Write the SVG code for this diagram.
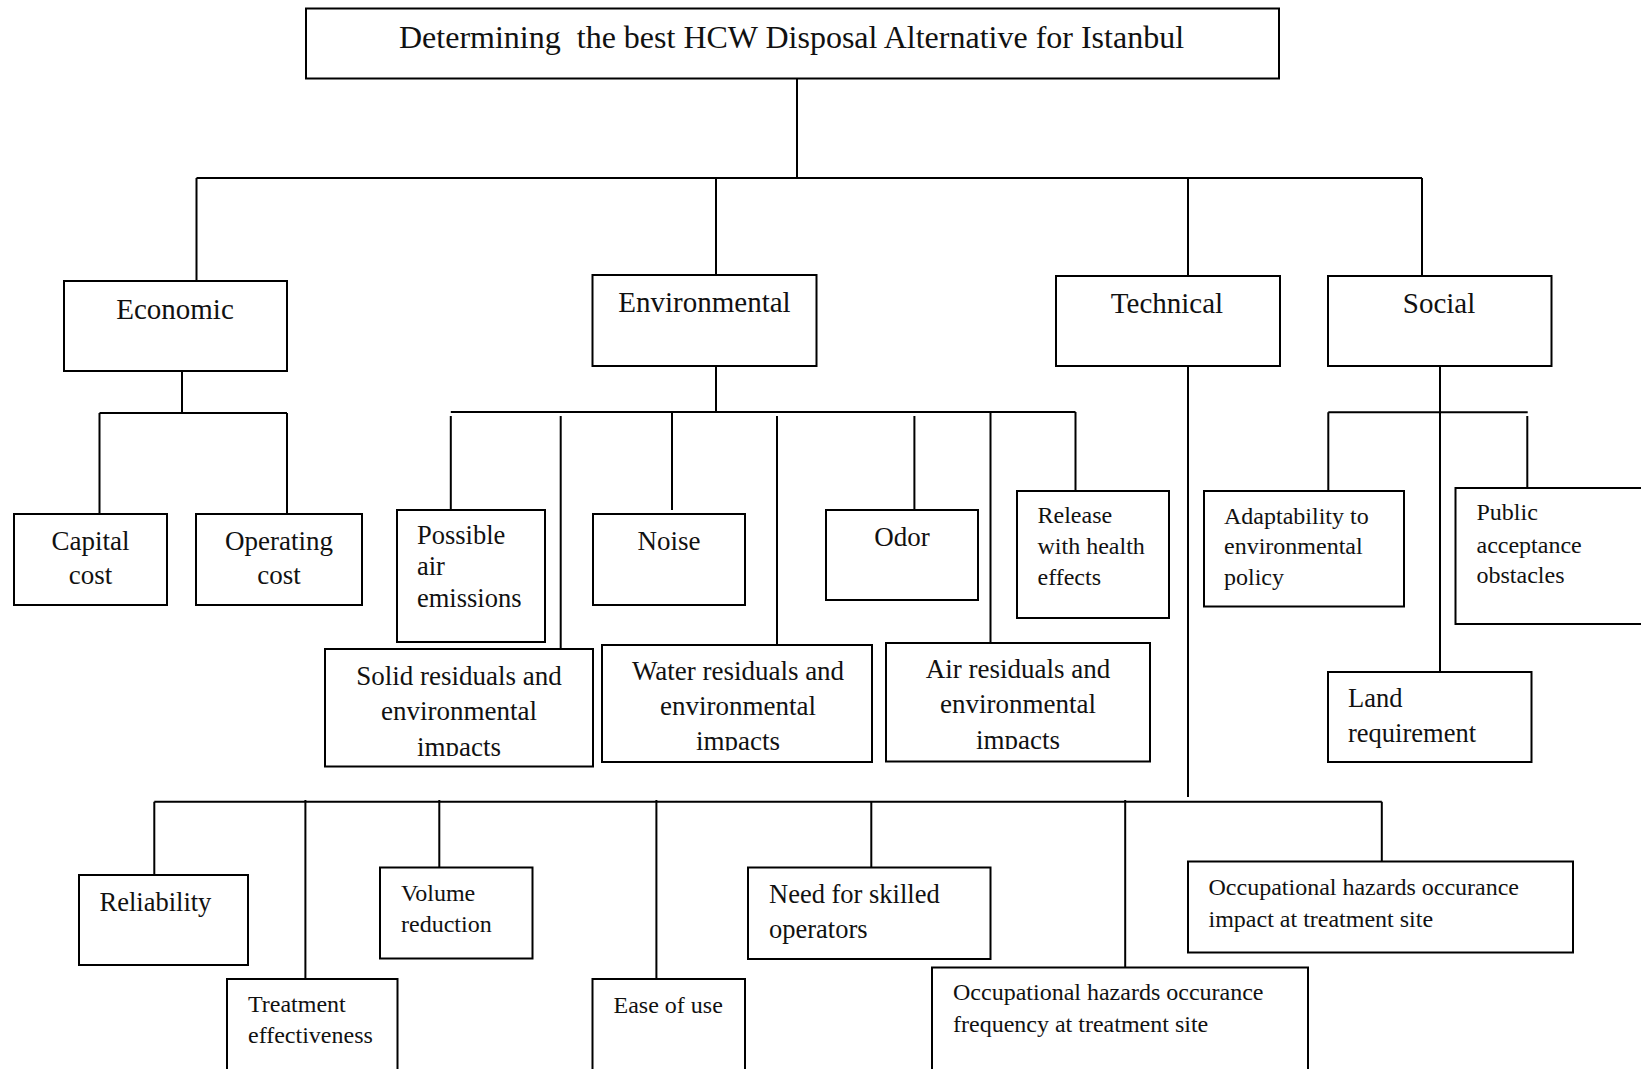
<svg xmlns="http://www.w3.org/2000/svg" width="1641" height="1069" viewBox="0 0 1641 1069">
<defs>
<style>
.box{fill:#fff;stroke:#000;stroke-width:2}
.ln{fill:none;stroke:#000;stroke-width:2}
text{font-family:"Liberation Serif","Times New Roman",serif;fill:#111}
.c{text-anchor:middle}
.t1{font-size:29px}
.t2{font-size:27px}
.t3{font-size:26.5px}
.t4{font-size:24px}
</style>
<clipPath id="clipSolid"><rect x="325" y="649" width="268" height="107"/></clipPath>
<clipPath id="clipWater"><rect x="602" y="645" width="270" height="105.5"/></clipPath>
<clipPath id="clipAir"><rect x="886" y="643" width="264" height="106"/></clipPath>
</defs>
<rect width="1641" height="1069" fill="#fff"/>

<g id="connectors">
<path class="ln" d="M797 79V178M196.5 178H1422M196.5 178V281M716 178V275M1188 178V276M1422 178V276"/>
<path class="ln" d="M182 368V413M99.5 413H287M99.5 413V514M287 413V514"/>
<path class="ln" d="M716 366V412M450.8 412H1075.5M450.8 416V510M560.7 416V649M672 412V510M777 416V645M914.4 416V510M990.5 412V643M1075.5 412V491"/>
<path class="ln" d="M1440 366V672M1328.3 412.3H1527.7M1328.3 412.3V491M1527.3 416V488"/>
<path class="ln" d="M1188 366V797M154.3 801.7H1381.8M154.3 801.7V875M305.4 800V979M439.3 800V867M656.4 800V979M871.3 801.7V867.7M1125.2 800V967.7M1381.8 801.7V861.7"/>
</g>

<g id="title">
<rect class="box" x="306" y="8.5" width="973" height="70"/>
<text x="399" y="48" style="font-size:32px;white-space:pre" xml:space="preserve">Determining  the best HCW Disposal Alternative for Istanbul</text>
</g>

<g id="economic">
<rect class="box" x="64" y="281" width="223" height="90"/>
<text class="t1 c" x="175" y="318.5">Economic</text>
</g>
<g id="environmental">
<rect class="box" x="592.5" y="275" width="224" height="91"/>
<text class="t1 c" x="704.5" y="312">Environmental</text>
</g>
<g id="technical">
<rect class="box" x="1056" y="276" width="224" height="90"/>
<text class="t1 c" x="1167" y="313">Technical</text>
</g>
<g id="social">
<rect class="box" x="1328" y="276" width="223.5" height="90"/>
<text class="t1 c" x="1439" y="313">Social</text>
</g>

<g id="capital-cost">
<rect class="box" x="14" y="514" width="153" height="91"/>
<text class="t2 c" x="90.5" y="550">Capital</text>
<text class="t2 c" x="90.5" y="584">cost</text>
</g>
<g id="operating-cost">
<rect class="box" x="196" y="514" width="166" height="91"/>
<text class="t2 c" x="279" y="550">Operating</text>
<text class="t2 c" x="279" y="584">cost</text>
</g>

<g id="possible-air-emissions">
<rect class="box" x="397" y="510" width="148" height="132"/>
<text class="t3" x="417" y="544">Possible</text>
<text class="t3" x="417" y="575">air</text>
<text class="t3" x="417" y="607">emissions</text>
</g>
<g id="solid-residuals">
<rect class="box" x="325" y="649" width="268" height="117.5"/>
<g clip-path="url(#clipSolid)">
<text class="t2 c" x="459" y="685">Solid residuals and</text>
<text class="t2 c" x="459" y="720">environmental</text>
<text class="t2 c" x="459" y="755.5">impacts</text>
</g>
</g>
<g id="noise">
<rect class="box" x="593" y="514" width="152" height="91"/>
<text class="t2 c" x="669" y="550">Noise</text>
</g>
<g id="water-residuals">
<rect class="box" x="602" y="645" width="270" height="117"/>
<g clip-path="url(#clipWater)">
<text class="t2 c" x="738" y="680">Water residuals and</text>
<text class="t2 c" x="738" y="715">environmental</text>
<text class="t2 c" x="738" y="750">impacts</text>
</g>
</g>
<g id="odor">
<rect class="box" x="826" y="510" width="152" height="90"/>
<text class="t2 c" x="902" y="545.5">Odor</text>
</g>
<g id="air-residuals">
<rect class="box" x="886" y="643" width="264" height="118.5"/>
<g clip-path="url(#clipAir)">
<text class="t2 c" x="1018" y="678">Air residuals and</text>
<text class="t2 c" x="1018" y="713">environmental</text>
<text class="t2 c" x="1018" y="748.5">impacts</text>
</g>
</g>
<g id="release-health">
<rect class="box" x="1017" y="491" width="152" height="127"/>
<text class="t4" x="1037.5" y="523">Release</text>
<text class="t4" x="1037.5" y="554">with health</text>
<text class="t4" x="1037.5" y="585">effects</text>
</g>

<g id="adaptability">
<rect class="box" x="1204" y="491" width="200" height="115.5"/>
<text class="t4" x="1224" y="524">Adaptability to</text>
<text class="t4" x="1224" y="554">environmental</text>
<text class="t4" x="1224" y="585">policy</text>
</g>
<g id="public-acceptance">
<rect class="box" x="1455.5" y="488" width="200" height="136"/>
<text class="t4" x="1476.5" y="520">Public</text>
<text class="t4" x="1476.5" y="552.5">acceptance</text>
<text class="t4" x="1476.5" y="583">obstacles</text>
</g>
<g id="land-requirement">
<rect class="box" x="1328" y="672" width="203.5" height="90"/>
<text class="t3" x="1348" y="706.5">Land</text>
<text class="t3" x="1348" y="741.5">requirement</text>
</g>

<g id="reliability">
<rect class="box" x="79" y="875" width="169" height="90"/>
<text class="t3" x="99.5" y="910.5">Reliability</text>
</g>
<g id="treatment-effectiveness">
<rect class="box" x="227" y="979" width="170.5" height="100"/>
<text class="t4" x="248" y="1011.5">Treatment</text>
<text class="t4" x="248" y="1043">effectiveness</text>
</g>
<g id="volume-reduction">
<rect class="box" x="380" y="867.5" width="152.5" height="91"/>
<text class="t4" x="401" y="900.5">Volume</text>
<text class="t4" x="401" y="931.5">reduction</text>
</g>
<g id="ease-of-use">
<rect class="box" x="592.5" y="979" width="152.5" height="100"/>
<text class="t4" x="613.5" y="1013">Ease of use</text>
</g>
<g id="skilled-operators">
<rect class="box" x="748" y="867.5" width="242.5" height="91.5"/>
<text class="t3" x="769" y="902.5">Need for skilled</text>
<text class="t3" x="769" y="938">operators</text>
</g>
<g id="hazard-frequency">
<rect class="box" x="932" y="967.5" width="376" height="110"/>
<text class="t4" x="953" y="999.5">Occupational hazards occurance</text>
<text class="t4" x="953" y="1031.5">frequency at treatment site</text>
</g>
<g id="hazard-impact">
<rect class="box" x="1188" y="861.5" width="385" height="91"/>
<text class="t4" x="1208.5" y="895">Occupational hazards occurance</text>
<text class="t4" x="1208.5" y="926.5">impact at treatment site</text>
</g>
</svg>
